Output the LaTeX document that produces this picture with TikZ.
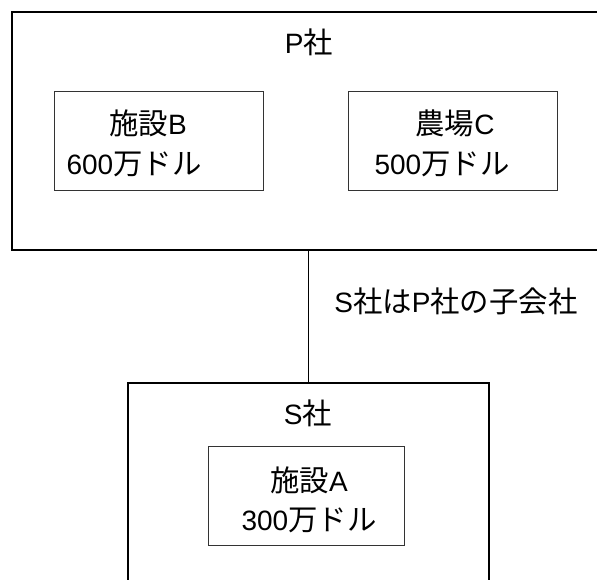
\documentclass[tikz,border=0pt]{standalone}
\usepackage{fontspec}
\setmainfont{Liberation Sans}
\newfontfamily\cjk[Scale=1.05]{Noto Sans CJK JP}
\newcommand{\J}[1]{{\cjk #1}}
\tikzset{
  outerbox/.style={draw=black, line width=1.4pt, anchor=north west, inner sep=0pt, outer sep=0pt},
  innerbox/.style={draw=black!80, line width=0.9pt, anchor=north west, inner sep=0pt, outer sep=0pt},
  lbl/.style={font=\fontsize{28}{32}\selectfont, inner sep=0pt, anchor=center},
  link/.style={draw=black, line width=1.6pt}
}
\begin{document}
\begin{tikzpicture}[x=1pt,y=-1pt]
\useasboundingbox (0,0) rectangle (597,580);
\clip (0,0) rectangle (597,580);
% P company
\node[outerbox, minimum width=620pt, minimum height=238pt] (P) at (12,12) {};
\node[lbl] (Pt) at (309,42) {P\J{社}};
\node[innerbox, minimum width=209pt, minimum height=99pt] (B) at (54,91) {};
\node[lbl] (Bt1) at (148,123) {\J{施設}B};
\node[lbl] (Bt2) at (134,164) {600\J{万ドル}};
\node[innerbox, minimum width=209pt, minimum height=99pt] (C) at (348,91) {};
\node[lbl] (Ct1) at (455,123) {\J{農場}C};
\node[lbl] (Ct2) at (442,164) {500\J{万ドル}};
% S company
\node[outerbox, minimum width=361pt, minimum height=230pt] (S) at (128,383) {};
\node[lbl] (St) at (308,413) {S\J{社}};
\node[innerbox, minimum width=196pt, minimum height=99pt] (A) at (208,446) {};
\node[lbl] (At1) at (309,480) {\J{施設}A};
\node[lbl] (At2) at (309,520) {300\J{万ドル}};
% link
\draw[link] (S.north) -- (S.north |- P.south);
\node[lbl] (rel) at (456,301) {S\J{社は}P\J{社の子会社}};
\end{tikzpicture}
\end{document}
